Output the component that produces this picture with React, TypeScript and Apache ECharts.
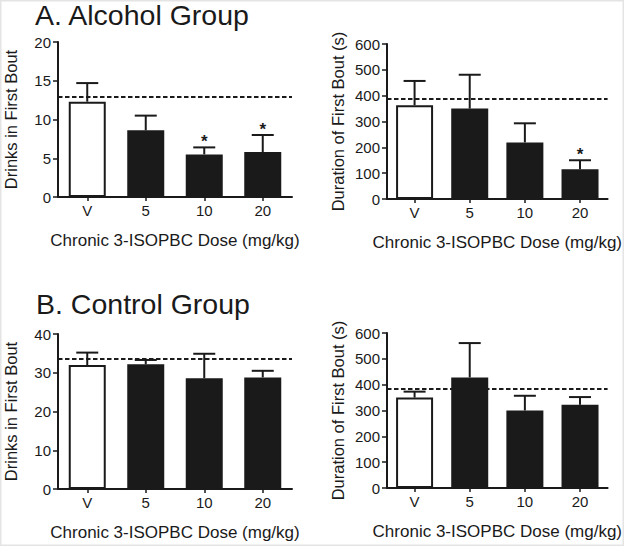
import React, { useEffect, useRef } from "react";
import * as echarts from "echarts";

const categories = ["V", "5", "10", "20"];

const alcDrinksMean = [12.3, 8.6, 5.5, 5.8];
const alcDrinksSem = [2.4, 1.9, 0.9, 2.2];
const alcDrinksSig = [false, false, true, true];
const alcDrinksBaseline = 13.0;

const alcDurMean = [363, 350, 219, 115];
const alcDurSem = [94, 131, 74, 35];
const alcDurSig = [false, false, false, true];
const alcDurBaseline = 390;

const ctlDrinksMean = [32.0, 32.2, 28.6, 28.8];
const ctlDrinksSem = [3.2, 1.1, 6.3, 1.7];
const ctlDrinksSig = [false, false, false, false];
const ctlDrinksBaseline = 33.6;

const ctlDurMean = [350, 428, 300, 322];
const ctlDurSem = [23, 133, 57, 30];
const ctlDurSig = [false, false, false, false];
const ctlDurBaseline = 385;

const titleA = "A. Alcohol Group";
const titleB = "B. Control Group";
const xTitle = "Chronic 3-ISOPBC Dose (mg/kg)";
const yDrinks = "Drinks in First Bout";
const yDuration = "Duration of First Bout (s)";

const FONT = "Liberation Sans, Arial, Helvetica, sans-serif";
const INK = "#1a1a1a";

export default function App() {
  const ref = useRef<HTMLDivElement>(null);

  useEffect(() => {
    if (!ref.current) return;
    const chart = echarts.init(ref.current, undefined, { renderer: "svg" });

    const grids = [
      { left: 58, top: 42, width: 234, height: 155 },
      { left: 387, top: 44, width: 230, height: 155 },
      { left: 58, top: 334, width: 234, height: 155 },
      { left: 387, top: 333, width: 230, height: 155 },
    ];

    const panels = [
      { mean: alcDrinksMean, sem: alcDrinksSem, sig: alcDrinksSig, base: alcDrinksBaseline, max: 20, interval: 5, name: yDrinks, gap: 39 },
      { mean: alcDurMean, sem: alcDurSem, sig: alcDurSig, base: alcDurBaseline, max: 600, interval: 100, name: yDuration, gap: 41 },
      { mean: ctlDrinksMean, sem: ctlDrinksSem, sig: ctlDrinksSig, base: ctlDrinksBaseline, max: 40, interval: 10, name: yDrinks, gap: 39 },
      { mean: ctlDurMean, sem: ctlDurSem, sig: ctlDurSig, base: ctlDurBaseline, max: 600, interval: 100, name: yDuration, gap: 41 },
    ];

    const axisLine = { show: true, lineStyle: { color: INK, width: 2 } };

    const xAxis = panels.map((_, i) => ({
      type: "category" as const,
      gridIndex: i,
      data: categories,
      axisLine,
      axisTick: { show: true, alignWithLabel: true, length: 4, lineStyle: { color: INK, width: 1.5 } },
      axisLabel: { color: INK, fontSize: 15, fontFamily: FONT, margin: 6 },
      name: xTitle,
      nameLocation: "middle" as const,
      nameGap: 35,
      nameTextStyle: { color: INK, fontSize: 17, fontFamily: FONT },
      splitLine: { show: false },
    }));

    const yAxis = panels.map((p, i) => ({
      type: "value" as const,
      gridIndex: i,
      min: 0,
      max: p.max,
      interval: p.interval,
      axisLine,
      axisTick: { show: true, length: 5, lineStyle: { color: INK, width: 1.5 } },
      axisLabel: { color: INK, fontSize: 15, fontFamily: FONT, margin: 7 },
      splitLine: { show: false },
      name: p.name,
      nameLocation: "middle" as const,
      nameGap: p.gap,
      nameTextStyle: { color: INK, fontSize: 16.5, fontFamily: FONT },
    }));

    const series: any[] = [];
    panels.forEach((p, i) => {
      series.push({
        type: "bar",
        xAxisIndex: i,
        yAxisIndex: i,
        barWidth: 37,
        data: p.mean.map((v, j) => ({
          value: v,
          itemStyle:
            j === 0
              ? { color: "#ffffff", borderColor: INK, borderWidth: 2 }
              : { color: INK, borderColor: INK, borderWidth: 2 },
        })),
        markLine: {
          silent: true,
          symbol: ["none", "none"],
          label: { show: false },
          lineStyle: { color: INK, type: [4.5, 2.5], width: 2 },
          data: [{ yAxis: p.base }],
        },
        z: 2,
      });
      series.push({
        type: "custom",
        xAxisIndex: i,
        yAxisIndex: i,
        z: 3,
        data: p.mean.map((m, j) => [j, m, m + p.sem[j], p.sig[j] ? 1 : 0]),
        renderItem: (params: any, api: any) => {
          const idx = api.value(0);
          const bottom = api.coord([idx, api.value(1)]);
          const top = api.coord([idx, api.value(2)]);
          const children: any[] = [
            {
              type: "line",
              shape: { x1: bottom[0], y1: bottom[1], x2: top[0], y2: top[1] },
              style: { stroke: INK, lineWidth: 2 },
            },
            {
              type: "line",
              shape: { x1: top[0] - 11, y1: top[1], x2: top[0] + 11, y2: top[1] },
              style: { stroke: INK, lineWidth: 2 },
            },
          ];
          if (api.value(3) === 1) {
            children.push({
              type: "text",
              x: top[0],
              y: top[1] - 6,
              style: {
                text: "*",
                fill: INK,
                fontSize: 17,
                fontWeight: "bold",
                fontFamily: FONT,
                align: "center",
                verticalAlign: "middle",
              },
            });
          }
          return { type: "group", children };
        },
      });
    });

    chart.setOption({
      animation: false,
      backgroundColor: "#ffffff",
      grid: grids,
      xAxis,
      yAxis,
      series,
      graphic: [
        {
          type: "rect",
          shape: { x: 0.5, y: 0.5, width: 623, height: 545 },
          style: { fill: "none", stroke: "#e4e4e4", lineWidth: 2 },
          silent: true,
        },
        {
          type: "text",
          x: 35,
          y: 15,
          style: { text: titleA, fill: INK, fontSize: 28.5, lineHeight: 28, fontFamily: FONT, verticalAlign: "middle" },
        },
        {
          type: "text",
          x: 36,
          y: 304,
          style: { text: titleB, fill: INK, fontSize: 28.5, lineHeight: 28, fontFamily: FONT, verticalAlign: "middle" },
        },
      ],
    });

    return () => chart.dispose();
  }, []);

  return (
    <div
      ref={ref}
      style={{ position: "fixed", left: 0, top: 0, width: 624, height: 546, background: "#fff" }}
    />
  );
}
